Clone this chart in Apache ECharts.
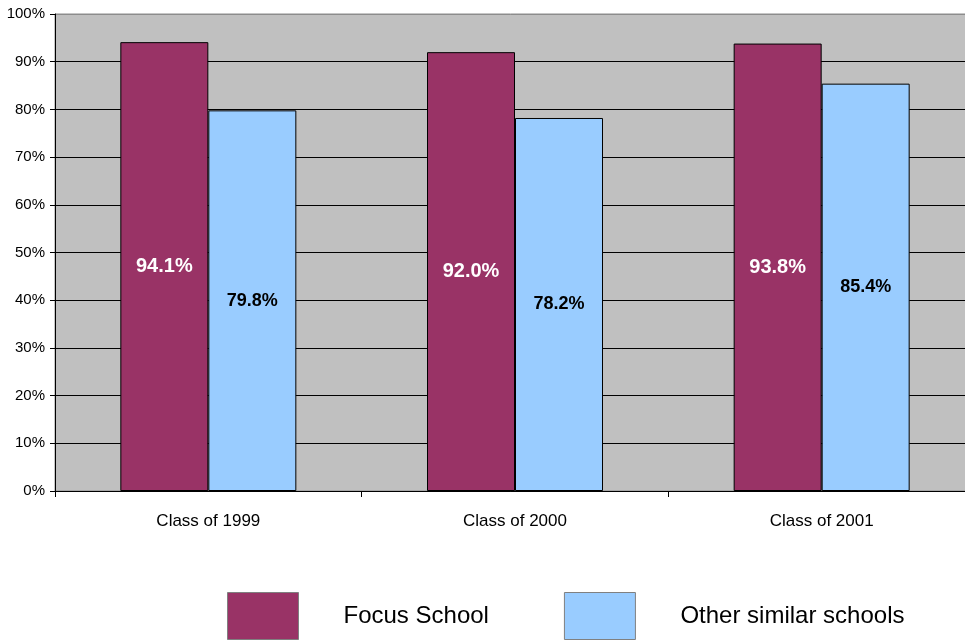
<!DOCTYPE html>
<html>
<head>
<meta charset="utf-8">
<script src="https://cdn.jsdelivr.net/npm/echarts@6/dist/echarts.min.js"></script>
<style>
  html, body { margin: 0; padding: 0; background: #fff; }
  #chart { width: 965px; height: 641px; }
</style>
</head>
<body>
<div id="chart"></div>
<script>
// data
const categories = ['Class of 1999', 'Class of 2000', 'Class of 2001']
const focusSchool = [94.1, 92.0, 93.8]
const otherSchools = [79.8, 78.2, 85.4]
const yTicks = [0, 10, 20, 30, 40, 50, 60, 70, 80, 90, 100]

const myChart = echarts.init(document.getElementById('chart'))

// gridlines black, except the top one which is the grey frame
const gridColors = yTicks.map((v) => v === 100 ? '#8c8c8c' : '#000')

const options = {
  animation: false,
  textStyle: { fontFamily: 'Liberation Sans, Arial, sans-serif' },
  grid: {
    left: 55,
    top: 14,
    width: 920,
    height: 477,
    outerBoundsMode: 'none',
    show: true,
    backgroundColor: '#C0C0C0',
    borderColor: '#8c8c8c',
    borderWidth: 1
  },
  legend: {
    left: 227,
    top: 592,
    padding: 0,
    itemWidth: 71,
    itemHeight: 47,
    itemGap: 75,
    icon: 'rect',
    itemStyle: { borderColor: '#808080', borderWidth: 1 },
    textStyle: { fontSize: 24, color: '#000', padding: [0, 0, 0, 40] },
    data: ['Focus School', 'Other similar schools']
  },
  xAxis: {
    type: 'category',
    data: categories,
    axisLine: { lineStyle: { color: '#000', width: 1 } },
    axisTick: { show: true, length: 6, lineStyle: { color: '#000' } },
    axisLabel: { color: '#000', fontSize: 17, margin: 22 }
  },
  yAxis: {
    type: 'value',
    min: 0,
    max: 100,
    interval: 10,
    axisLine: { show: true, lineStyle: { color: '#000' } },
    axisTick: { show: true, length: 5, lineStyle: { color: '#000' } },
    axisLabel: {
      color: '#000',
      fontSize: 15,
      margin: 10,
      formatter: (v) => yTicks.indexOf(v) >= 0 ? v + '%' : ''
    },
    splitLine: { show: true, lineStyle: { color: gridColors, width: 1 } }
  },
  series: [
    {
      name: 'Focus School',
      type: 'bar',
      barWidth: 88,
      barGap: '0%',
      data: focusSchool,
      itemStyle: { color: '#993366', borderColor: '#000', borderWidth: 1 },
      label: {
        show: true,
        position: 'inside',
        color: '#fff',
        fontSize: 20,
        fontWeight: 'bold',
        formatter: (p) => p.value.toFixed(1) + '%'
      }
    },
    {
      name: 'Other similar schools',
      type: 'bar',
      barWidth: 88,
      data: otherSchools,
      itemStyle: { color: '#99CCFF', borderColor: '#000', borderWidth: 1 },
      label: {
        show: true,
        position: 'inside',
        color: '#000',
        fontSize: 18,
        fontWeight: 'bold',
        formatter: (p) => p.value.toFixed(1) + '%'
      }
    }
  ]
}
myChart.setOption(options)
</script>
</body>
</html>
